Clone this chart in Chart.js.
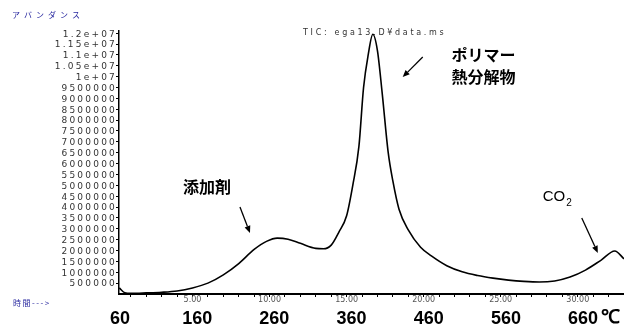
<!DOCTYPE html>
<html>
<head>
<meta charset="utf-8">
<script src="https://cdn.jsdelivr.net/npm/chart.js@4.4.1/dist/chart.umd.min.js"></script>
<style>
  html, body { margin: 0; padding: 0; background: #fff; }
  #wrap { width: 624px; height: 327px; position: relative; }
</style>
</head>
<body>
<div id="wrap"><canvas id="c" width="624" height="327"></canvas></div>
<script>
// ---- data (time in minutes, abundance in counts) ----
const timeMin = [0.25, 0.6, 1.0, 2.0, 3.0, 4.0, 5.0, 6.0, 7.0, 8.0, 9.0, 9.8, 10.5, 11.2, 12.0, 13.0, 13.5, 14.0, 14.5, 15.0, 15.4, 15.8, 16.1, 16.4, 16.7, 17.0, 17.3, 17.7, 18.0, 18.4, 19.0, 19.8, 20.5, 21.5, 22.5, 23.5, 24.5, 25.5, 26.5, 27.5, 28.5, 29.5, 30.5, 31.5, 32.4, 33.0];
const abundance = [280000, 60000, 30000, 50000, 80000, 140000, 280000, 500000, 880000, 1400000, 2050000, 2420000, 2570000, 2520000, 2330000, 2100000, 2080000, 2250000, 2850000, 3600000, 5000000, 6800000, 9500000, 11000000, 11950000, 11200000, 9300000, 6500000, 5200000, 3900000, 2950000, 2150000, 1750000, 1300000, 1020000, 850000, 730000, 640000, 580000, 550000, 600000, 780000, 1100000, 1550000, 1980000, 1620000];

const yTickValues = [500000, 1000000, 1500000, 2000000, 2500000, 3000000, 3500000, 4000000, 4500000, 5000000, 5500000, 6000000, 6500000, 7000000, 7500000, 8000000, 8500000, 9000000, 9500000, 10000000, 10500000, 11000000, 11500000, 12000000];
const yTickLabels = ['500000', '1000000', '1500000', '2000000', '2500000', '3000000', '3500000', '4000000', '4500000', '5000000', '5500000', '6000000', '6500000', '7000000', '7500000', '8000000', '8500000', '9000000', '9500000', '1e+07', '1.05e+07', '1.1e+07', '1.15e+07', '1.2e+07'];
const timeTickValues = [5, 10, 15, 20, 25, 30];
const timeTickLabels = ['5.00', '10.00', '15.00', '20.00', '25.00', '30.00'];
const tempTickValues = [60, 160, 260, 360, 460, 560, 660];
const tempTickLabels = ['60', '160', '260', '360', '460', '560', '660'];
const tempUnit = '℃';

const yAxisTitle = 'アバンダンス';
const xAxisTitle = '時間--->';
const chartTitle = 'TIC: ega13.D¥data.ms';
const annotations = [
  { lines: ['ポリマー', '熱分解物'], t: 21.8, v: 11.0e6, arrowFrom: [19.94, 10.9e6], arrowTo: [18.64, 9.98e6] },
  { lines: ['添加剤'], t: 4.38, v: 4.92e6, arrowFrom: [8.08, 4.0e6], arrowTo: [8.73, 2.81e6] },
  { lines: ['CO'], sub: '2', t: 27.73, v: 4.46e6, arrowFrom: [30.26, 3.5e6], arrowTo: [31.3, 1.89e6] }
];

const points = timeMin.map((t, i) => ({ x: t, y: abundance[i] }));

function arrow(ctx, x1, y1, x2, y2) {
  const ang = Math.atan2(y2 - y1, x2 - x1);
  const head = 7, w = 3;
  const bx = x2 - head * Math.cos(ang), by = y2 - head * Math.sin(ang);
  ctx.beginPath();
  ctx.moveTo(x1, y1);
  ctx.lineTo(bx, by);
  ctx.lineWidth = 1.3;
  ctx.strokeStyle = '#000';
  ctx.stroke();
  ctx.beginPath();
  ctx.moveTo(x2, y2);
  ctx.lineTo(bx + w * Math.sin(ang), by - w * Math.cos(ang));
  ctx.lineTo(bx - w * Math.sin(ang), by + w * Math.cos(ang));
  ctx.closePath();
  ctx.fillStyle = '#000';
  ctx.fill();
}

const decor = {
  id: 'decor',
  afterDraw(chart) {
    const ctx = chart.ctx;
    const xs = chart.scales.x, ys = chart.scales.y, xt = chart.scales.xT;
    ctx.save();
    // y tick labels (wide, light)
    ctx.font = '9px "DejaVu Sans"';
    ctx.fillStyle = '#333';
    ctx.textAlign = 'right';
    ctx.textBaseline = 'middle';
    ctx.letterSpacing = '2.2px';
    yTickValues.forEach((v, i) => {
      ctx.fillText(yTickLabels[i], xs.left - 2, ys.getPixelForValue(v) + 1);
    });
    // y axis title
    ctx.font = '8px "Noto Sans CJK JP"';
    ctx.fillStyle = '#2a2aa0';
    ctx.textAlign = 'left';
    ctx.letterSpacing = '4px';
    ctx.fillText(yAxisTitle, 12, 15);
    ctx.letterSpacing = '1.5px';
    ctx.fillText(xAxisTitle, 13, 303);
    // chart title
    ctx.font = '8px "DejaVu Sans"';
    ctx.fillStyle = '#333';
    ctx.letterSpacing = '2.7px';
    ctx.fillText(chartTitle, 303, 33);
    ctx.letterSpacing = '0px';
    // temperature unit next to last temperature label
    const lastT = tempTickValues[tempTickValues.length - 1];
    ctx.font = 'bold 18px "Liberation Sans Narrow", "Liberation Sans"';
    const lw = ctx.measureText(tempTickLabels[tempTickLabels.length - 1]).width;
    ctx.font = 'bold 19px "Liberation Sans"';
    ctx.fillStyle = '#000';
    ctx.textBaseline = 'middle';
    ctx.fillText(tempUnit, xt.getPixelForValue(lastT) + lw / 2 + 3, 318);
    // annotations
    annotations.forEach(a => {
      const x = xs.getPixelForValue(a.t), y = ys.getPixelForValue(a.v);
      ctx.fillStyle = '#000';
      ctx.textAlign = 'left';
      ctx.textBaseline = 'middle';
      if (a.sub) {
        ctx.font = '15px "Liberation Sans"';
        ctx.fillText(a.lines[0], x, y);
        const w = ctx.measureText(a.lines[0]).width;
        ctx.font = '10px "Liberation Sans"';
        ctx.fillText(a.sub, x + w + 1, y + 6);
      } else {
        ctx.font = 'bold 16px "Noto Sans CJK JP"';
        a.lines.forEach((ln, k) => ctx.fillText(ln, x, y + k * 22));
      }
      arrow(ctx, xs.getPixelForValue(a.arrowFrom[0]), ys.getPixelForValue(a.arrowFrom[1]),
                 xs.getPixelForValue(a.arrowTo[0]), ys.getPixelForValue(a.arrowTo[1]));
    });
    ctx.restore();
  }
};

new Chart(document.getElementById('c'), {
  type: 'line',
  data: {
    datasets: [{
      data: points,
      borderColor: '#000',
      borderWidth: 1.6,
      pointRadius: 0,
      fill: false,
      cubicInterpolationMode: 'monotone'
    }]
  },
  options: {
    responsive: false,
    animation: false,
    layout: { padding: { top: 31, right: 0, left: 0, bottom: 0 } },
    plugins: { legend: { display: false }, tooltip: { enabled: false } },
    scales: {
      x: {
        type: 'linear',
        position: 'bottom',
        weight: 0,
        min: 0.23,
        max: 33,
        afterBuildTicks(scale) {
          const arr = [];
          for (let v = 1; v <= 33; v++) arr.push({ value: v });
          scale.ticks = arr;
        },
        afterFit(scale) { scale.height = 12; },
        grid: { drawOnChartArea: false, drawTicks: true, tickLength: 3, color: '#000', lineWidth: 1 },
        border: { display: true, color: '#000', width: 2 },
        ticks: {
          autoSkip: false,
          maxRotation: 0,
          padding: -2,
          color: '#555',
          font: { family: 'DejaVu Sans', size: 8 },
          callback(v) {
            const i = timeTickValues.indexOf(v);
            return i >= 0 ? timeTickLabels[i] : '';
          }
        }
      },
      xT: {
        type: 'linear',
        position: 'bottom',
        weight: 1,
        min: 58.7,
        max: 713,
        afterBuildTicks(scale) { scale.ticks = tempTickValues.map(v => ({ value: v })); },
        afterFit(scale) { scale.height = 21; },
        grid: { display: false, drawTicks: false },
        border: { display: false },
        ticks: {
          autoSkip: false,
          maxRotation: 0,
          padding: 2,
          color: '#000',
          font: { family: 'Liberation Sans Narrow, Liberation Sans', size: 18, weight: 'bold' },
          callback(v) {
            const i = tempTickValues.indexOf(v);
            return i >= 0 ? tempTickLabels[i] : '';
          }
        }
      },
      y: {
        type: 'linear',
        min: 0,
        max: 12100000,
        afterBuildTicks(scale) { scale.ticks = yTickValues.map(v => ({ value: v })); },
        afterFit(scale) { scale.width = 119; },
        grid: { drawOnChartArea: false, drawTicks: true, tickLength: 3, color: '#000' },
        border: { display: true, color: '#000', width: 1.5 },
        ticks: { display: false }
      }
    }
  },
  plugins: [decor]
});
</script>
</body>
</html>
